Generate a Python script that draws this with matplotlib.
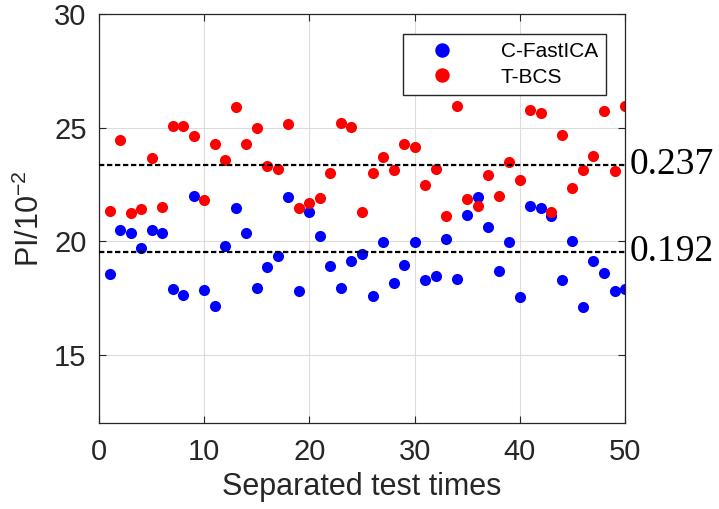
import matplotlib
matplotlib.use("Agg")
import matplotlib.pyplot as plt
import matplotlib.transforms as mtransforms
import numpy as np

# test index
times = np.arange(1, 51)

# PI values (x 10^-2)
c_fastica = [18.55, 20.5, 20.35, 19.7, 20.5, 20.35, 17.9, 17.65, 22.0, 17.85,
             17.15, 19.8, 21.45, 20.35, 17.95, 18.85, 19.35, 21.95, 17.8, 21.3,
             20.25, 18.9, 17.95, 19.15, 19.45, 17.6, 19.95, 18.15, 18.95, 19.95,
             18.3, 18.45, 20.1, 18.35, 21.15, 21.95, 20.65, 18.7, 19.95, 17.55,
             21.55, 21.45, 21.1, 18.3, 20.0, 17.1, 19.15, 18.6, 17.8, 17.9]
t_bcs = [21.35, 24.45, 21.25, 21.4, 23.65, 21.5, 25.1, 25.1, 24.65, 21.8,
         24.3, 23.6, 25.9, 24.3, 25.0, 23.3, 23.2, 25.15, 21.45, 21.7,
         21.9, 23.0, 25.2, 25.05, 21.3, 23.0, 23.7, 23.15, 24.3, 24.15,
         22.5, 23.2, 21.1, 25.95, 21.85, 21.55, 22.9, 22.0, 23.5, 22.7,
         25.8, 25.65, 21.3, 24.7, 22.35, 23.15, 23.75, 25.75, 23.1, 25.95]

mean_levels = [23.37, 19.52]
mean_labels = ["0.237", "0.192"]

dark = "#262626"

fig = plt.figure(figsize=(7.19, 5.09), dpi=100)
ax = fig.add_axes([0.1377, 0.1695, 0.8693 - 0.1377, 0.9717 - 0.1695])

ax.plot(times, c_fastica, "o", color="#0000ff", ms=8, mec="none", label="C-FastICA")
ax.plot(times, t_bcs, "o", color="#ff0000", ms=8, mec="none", label="T-BCS")

for lvl in mean_levels:
    ax.axhline(lvl, color="black", ls=(0, (2.4, 1.2)), lw=1.6, zorder=3)

trans = mtransforms.blended_transform_factory(ax.transAxes, ax.transData)
for lvl, lab in zip(mean_levels, mean_labels):
    ax.text(1.008, lvl, lab, transform=trans, va="center", ha="left",
            fontsize=27, family="Liberation Serif", color="black")

ax.set_xlim(0, 50)
ax.set_ylim(12, 30)
ax.set_xticks([0, 10, 20, 30, 40, 50])
ax.set_yticks([15, 20, 25, 30])
ax.grid(True, color="#dcdcdc", lw=0.8)
ax.set_axisbelow(True)

ax.tick_params(direction="in", top=True, right=True, length=5, width=0.8,
               colors=dark, labelsize=21)
ax.tick_params(axis="x", pad=11)
ax.tick_params(axis="y", pad=9)
for lbl in ax.get_xticklabels() + ax.get_yticklabels():
    lbl.set_family("Liberation Sans")
for sp in ax.spines.values():
    sp.set_color(dark)
    sp.set_linewidth(0.9)

ax.set_xlabel("Separated test times", fontsize=22, family="Liberation Sans",
              color=dark, labelpad=4)
ax.set_ylabel(r"PI/10$^{\mathregular{-2}}$", fontsize=22, family="Liberation Sans",
              color=dark, labelpad=6)

leg = ax.legend(loc="upper right", bbox_to_anchor=(0.964, 0.952), borderaxespad=0,
                fancybox=False, edgecolor=dark, framealpha=1,
                prop={"family": "Liberation Sans", "size": 15},
                handlelength=3.0, handletextpad=1.3, borderpad=0.4,
                labelspacing=0.3, markerscale=1.3)
leg.get_frame().set_linewidth(1.0)

fig.savefig("out.png", dpi=100)
